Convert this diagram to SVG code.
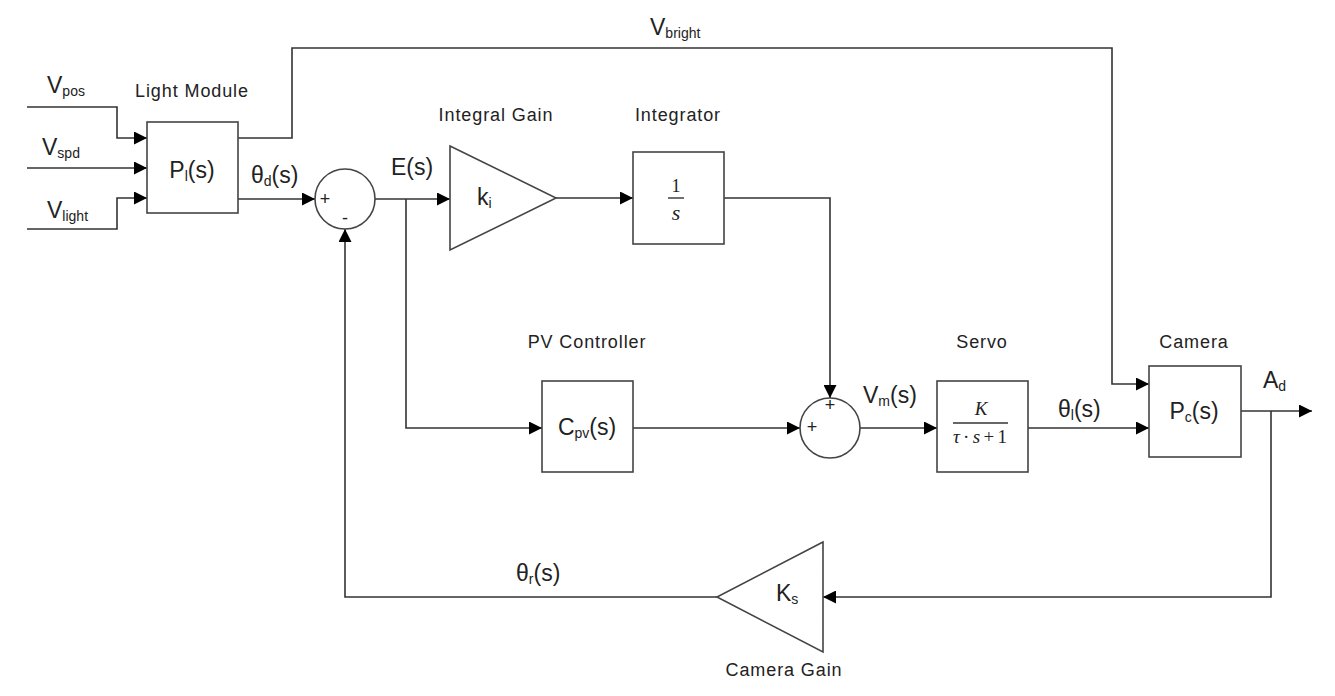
<svg xmlns="http://www.w3.org/2000/svg" width="1335" height="696" viewBox="0 0 1335 696">
<defs>
<marker id="ah" markerUnits="userSpaceOnUse" markerWidth="14" markerHeight="13" refX="13" refY="6.5" orient="auto">
<path d="M0,0 L13,6.5 L0,13 Z" fill="#000"/>
</marker>
<style>
.blk{fill:#fff;stroke:#444;stroke-width:1.6}
.w{fill:none;stroke:#333;stroke-width:1.6}
.t{font-family:"Liberation Sans",Arial,sans-serif;fill:#222}
.lbl{font-size:18px;letter-spacing:0.9px}
.sig{font-size:23px}
.sub{font-size:14px}
.pm{font-family:"Liberation Sans",Arial,sans-serif;fill:#222;font-size:18px;text-anchor:middle}
.m{font-family:"Liberation Serif","Times New Roman",serif;fill:#222}
</style>
</defs>
<rect width="1335" height="696" fill="#fff"/>
<g id="connectors">
<path class="w" d="M27,107 H117 V138 H147" marker-end="url(#ah)"/>
<path class="w" d="M27,168 H147" marker-end="url(#ah)"/>
<path class="w" d="M27,229 H117 V198 H147" marker-end="url(#ah)"/>
<path class="w" d="M238,138 H292 V48 H1112 V384 H1149" marker-end="url(#ah)"/>
<path class="w" d="M238,199 H315" marker-end="url(#ah)"/>
<path class="w" d="M375,199 H450" marker-end="url(#ah)"/>
<path class="w" d="M406,199 V428 H542" marker-end="url(#ah)"/>
<path class="w" d="M556,198 H633" marker-end="url(#ah)"/>
<path class="w" d="M724,198 H830 V398" marker-end="url(#ah)"/>
<path class="w" d="M633,428 H800" marker-end="url(#ah)"/>
<path class="w" d="M860,428 H937" marker-end="url(#ah)"/>
<path class="w" d="M1028,428 H1149" marker-end="url(#ah)"/>
<path class="w" d="M1241,411 H1312" marker-end="url(#ah)"/>
<path class="w" d="M1271,411 V597 H823" marker-end="url(#ah)"/>
<path class="w" d="M717,597 H345 V229" marker-end="url(#ah)"/>
</g>
<g id="inputs">
<text class="t sig" x="47" y="93">V<tspan class="sub" dy="3">pos</tspan></text>
<text class="t sig" x="42" y="155">V<tspan class="sub" dy="3">spd</tspan></text>
<text class="t sig" x="47" y="218">V<tspan class="sub" dy="3">light</tspan></text>
<text class="t sig" x="650" y="35">V<tspan class="sub" dy="3">bright</tspan></text>
</g>
<g id="light-module">
<rect class="blk" x="147" y="122" width="91" height="91"/>
<text class="t lbl" x="192" y="97" text-anchor="middle">Light Module</text>
<text class="t sig" x="192" y="178" text-anchor="middle">P<tspan class="sub" dy="3">l</tspan><tspan dy="-3">(s)</tspan></text>
<text class="t sig" x="251" y="183">θ<tspan class="sub" dy="3">d</tspan><tspan dy="-3">(s)</tspan></text>
</g>
<g id="sum1">
<circle class="blk" cx="345" cy="199" r="30"/>
<text class="pm" x="325" y="205">+</text>
<text class="pm" x="345" y="224">-</text>
<text class="t sig" x="391" y="175">E(s)</text>
</g>
<g id="integral-gain">
<polygon class="blk" points="450,146 556,198 450,250"/>
<text class="t lbl" x="496" y="121" text-anchor="middle">Integral Gain</text>
<text class="t sig" x="477" y="205">k<tspan class="sub" dy="3">i</tspan></text>
</g>
<g id="integrator">
<rect class="blk" x="633" y="152" width="91" height="92"/>
<text class="t lbl" x="678" y="121" text-anchor="middle">Integrator</text>
<text class="m" font-size="18" x="676" y="192" text-anchor="middle">1</text>
<line x1="668" y1="198" x2="684" y2="198" stroke="#333" stroke-width="1.4"/>
<text class="m" font-size="22" font-style="italic" x="676" y="220" text-anchor="middle">s</text>
</g>
<g id="pv-controller">
<rect class="blk" x="542" y="381" width="91" height="91"/>
<text class="t lbl" x="587" y="348" text-anchor="middle">PV Controller</text>
<text class="t sig" x="587" y="435" text-anchor="middle">C<tspan class="sub" dy="3">pv</tspan><tspan dy="-3">(s)</tspan></text>
</g>
<g id="sum2">
<circle class="blk" cx="830" cy="428" r="30"/>
<text class="pm" x="830" y="411">+</text>
<text class="pm" x="812" y="433">+</text>
<text class="t sig" x="863" y="403">V<tspan class="sub" dy="3">m</tspan><tspan dy="-3">(s)</tspan></text>
</g>
<g id="servo">
<rect class="blk" x="937" y="381" width="91" height="91"/>
<text class="t lbl" x="982" y="348" text-anchor="middle">Servo</text>
<text class="m" font-size="19" font-style="italic" x="981" y="415" text-anchor="middle">K</text>
<line x1="953" y1="423" x2="1008" y2="423" stroke="#333" stroke-width="1.4"/>
<text class="m" font-size="19" x="953" y="443" textLength="54" lengthAdjust="spacing"><tspan font-style="italic">τ</tspan>·<tspan font-style="italic">s</tspan>+1</text>
<text class="t sig" x="1058" y="417">θ<tspan class="sub" dy="3">l</tspan><tspan dy="-3">(s)</tspan></text>
</g>
<g id="camera">
<rect class="blk" x="1149" y="366" width="92" height="91"/>
<text class="t lbl" x="1194" y="348" text-anchor="middle">Camera</text>
<text class="t sig" x="1194" y="419" text-anchor="middle">P<tspan class="sub" dy="3">c</tspan><tspan dy="-3">(s)</tspan></text>
<text class="t sig" x="1263" y="388">A<tspan class="sub" dy="3">d</tspan></text>
</g>
<g id="camera-gain">
<polygon class="blk" points="823,542 717,597 823,652"/>
<text class="t lbl" x="784" y="676" text-anchor="middle">Camera Gain</text>
<text class="t sig" x="776" y="601">K<tspan class="sub" dy="3">s</tspan></text>
<text class="t sig" x="516" y="581">θ<tspan class="sub" dy="3">r</tspan><tspan dy="-3">(s)</tspan></text>
</g>
</svg>
